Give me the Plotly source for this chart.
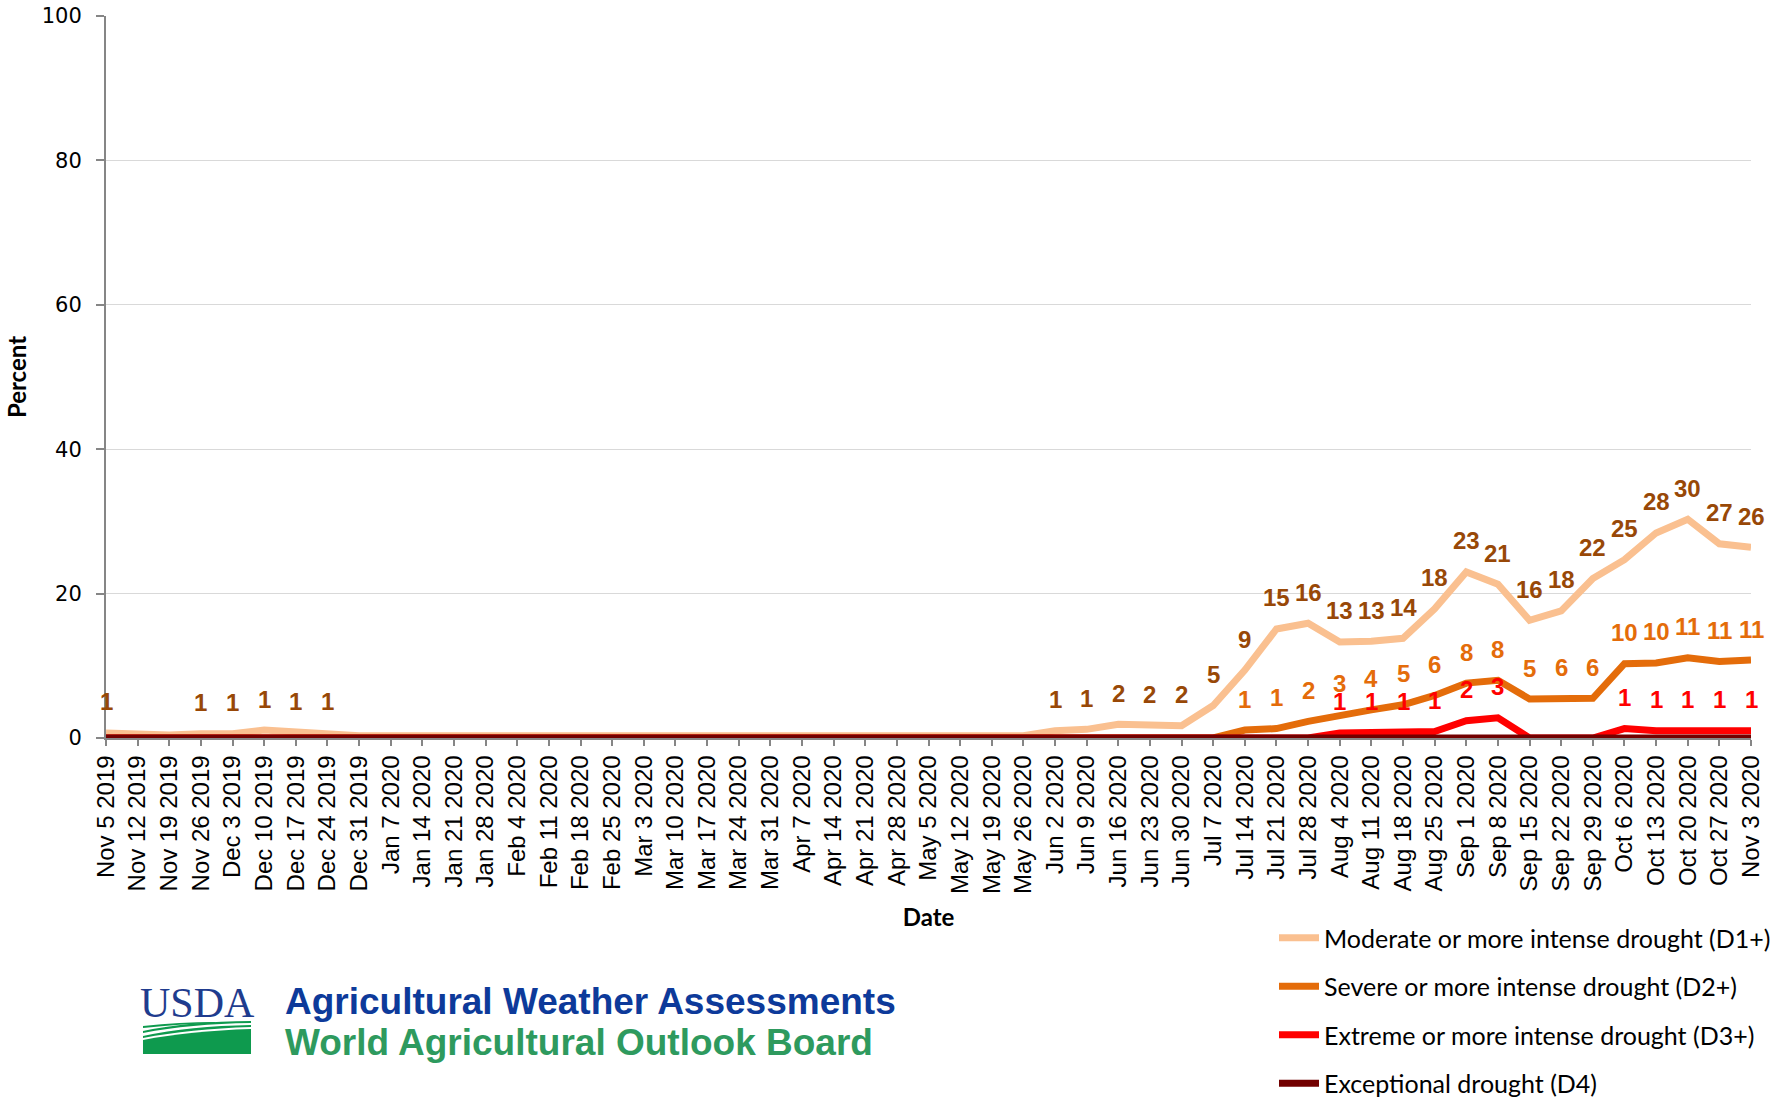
import plotly.graph_objects as go

dates = ["Nov 5 2019", "Nov 12 2019", "Nov 19 2019", "Nov 26 2019", "Dec 3 2019", "Dec 10 2019",
         "Dec 17 2019", "Dec 24 2019", "Dec 31 2019", "Jan 7 2020", "Jan 14 2020", "Jan 21 2020",
         "Jan 28 2020", "Feb 4 2020", "Feb 11 2020", "Feb 18 2020", "Feb 25 2020", "Mar 3 2020",
         "Mar 10 2020", "Mar 17 2020", "Mar 24 2020", "Mar 31 2020", "Apr 7 2020", "Apr 14 2020",
         "Apr 21 2020", "Apr 28 2020", "May 5 2020", "May 12 2020", "May 19 2020", "May 26 2020",
         "Jun 2 2020", "Jun 9 2020", "Jun 16 2020", "Jun 23 2020", "Jun 30 2020", "Jul 7 2020",
         "Jul 14 2020", "Jul 21 2020", "Jul 28 2020", "Aug 4 2020", "Aug 11 2020", "Aug 18 2020",
         "Aug 25 2020", "Sep 1 2020", "Sep 8 2020", "Sep 15 2020", "Sep 22 2020", "Sep 29 2020",
         "Oct 6 2020", "Oct 13 2020", "Oct 20 2020", "Oct 27 2020", "Nov 3 2020"]

d1_moderate = [0.7, 0.45, 0.4, 0.6, 0.6, 1.1, 0.8, 0.7, 0.3, 0.3, 0.3, 0.3, 0.3, 0.3, 0.3, 0.2,
               0.1, 0.1, 0.1, 0.1, 0.1, 0.1, 0.1, 0.1, 0.1, 0.1, 0.1, 0.2, 0.3, 0.3,
               1.0, 1.2, 1.9, 1.8, 1.7, 4.5, 9.4, 15.1, 15.9, 13.3, 13.4, 13.8, 17.9,
               23.0, 21.3, 16.3, 17.6, 22.1, 24.7, 28.4, 30.3, 26.9, 26.4]

d2_severe = [0.0] * 36 + [1.1, 1.3, 2.3, 3.2, 3.9, 4.6, 5.9, 7.6, 8.0, 5.4, 5.5, 5.5,
                          10.3, 10.4, 11.1, 10.6, 10.8]

d3_extreme = [0.0] * 39 + [0.7, 0.7, 0.7, 0.9, 2.4, 2.8, 0.0, 0.0, 0.0, 1.3, 1.0, 1.0, 1.0, 1.0]

d4_exceptional = [0.0] * 53

series_names = ["Moderate or more intense drought (D1+)",
                "Severe or more intense drought (D2+)",
                "Extreme or more intense drought (D3+)",
                "Exceptional drought (D4)"]
series_values = [d1_moderate, d2_severe, d3_extreme, d4_exceptional]
line_colors = ["#FAC090", "#E46C0A", "#FF0000", "#720000"]
label_colors = ["#984807", "#E46C0A", "#FF0000", None]

# layout geometry (pixels)
W, H = 1792, 1098
L, R, T, B = 106, 41, 16, 360
PW, PH = W - L - R, H - T - B


def px(x):
    return (x - L) / PW


def py(y):
    return (H - B - y) / PH


fig = go.Figure()
for i, (name, vals) in enumerate(zip(series_names, series_values)):
    fig.add_trace(go.Scatter(
        x=dates, y=vals, mode="lines", name=name,
        line=dict(color=line_colors[i], width=7),
        legendgroup=f"g{i}", cliponaxis=False, hoverinfo="x+y+name"))

annotations = []
for i, vals in enumerate(series_values):
    if label_colors[i] is None:
        continue
    for d, v in zip(dates, vals):
        n = int(v + 0.5)
        if n < 1:
            continue
        annotations.append(dict(
            x=d, y=v, xref="x", yref="y", text=f"<b>{n}</b>", showarrow=False,
            yshift=31, font=dict(family="Liberation Sans, Arial", size=24, color=label_colors[i])))

# footer texts
annotations.append(dict(x=px(283), y=py(1001), xref="paper", yref="paper", xanchor="left",
                        yanchor="middle", showarrow=False,
                        text="<b>Agricultural Weather Assessments</b>",
                        font=dict(family="Liberation Sans, Arial", size=37, color="#0D3A9A")))
annotations.append(dict(x=px(283), y=py(1042), xref="paper", yref="paper", xanchor="left",
                        yanchor="middle", showarrow=False,
                        text="<b>World Agricultural Outlook Board</b>",
                        font=dict(family="Liberation Sans, Arial", size=37, color="#2E9A5E")))
annotations.append(dict(x=px(197), y=py(1003), xref="paper", yref="paper", xanchor="center",
                        yanchor="middle", showarrow=False, text="USDA",
                        font=dict(family="Liberation Serif, Times New Roman", size=42, color="#1F3C8E")))

green = "#0E9A4E"


def P(x, y):
    return f"{px(x):.5f},{py(y):.5f}"


shapes = [
    dict(type="path", xref="paper", yref="paper", line=dict(width=0), fillcolor=green,
         path=f"M {P(143,1054)} L {P(251,1054)} L {P(251,1029)} Q {P(190,1031)} {P(143,1040)} Z"),
    dict(type="path", xref="paper", yref="paper", line=dict(width=0), fillcolor=green,
         path=f"M {P(143,1036)} Q {P(190,1026)} {P(251,1025)} L {P(251,1027)} Q {P(190,1029)} {P(143,1038)} Z"),
    dict(type="path", xref="paper", yref="paper", line=dict(width=0), fillcolor=green,
         path=f"M {P(143,1031)} Q {P(190,1021)} {P(251,1021)} L {P(251,1023)} Q {P(190,1024)} {P(143,1033)} Z"),
    dict(type="path", xref="paper", yref="paper", line=dict(width=0), fillcolor=green,
         path=f"M {P(143,1026)} Q {P(180,1022)} {P(215,1022)} L {P(215,1023)} Q {P(180,1024)} {P(143,1028)} Z"),
]

fig.update_layout(
    width=W, height=H,
    margin=dict(l=L, r=R, t=T, b=B, autoexpand=False),
    paper_bgcolor="white", plot_bgcolor="white",
    showlegend=True,
    legend=dict(x=px(1274), y=py(915), xanchor="left", yanchor="top",
                font=dict(family="Lato", size=25, color="#000000"),
                tracegroupgap=13, bgcolor="rgba(0,0,0,0)", itemwidth=40),
    annotations=annotations,
    shapes=shapes,
    xaxis=dict(
        type="category", range=[0, 52], tickangle=-90,
        tickfont=dict(family="Liberation Sans, Arial", size=24, color="#000000"),
        ticks="outside", ticklen=6, tickcolor="#868686", tickwidth=1.5,
        showline=True, linecolor="#868686", linewidth=1.5, showgrid=False,
        title=dict(text="<b>Date</b>", font=dict(family="Lato", size=24, color="#000000"),
                   standoff=16),
        automargin=False, fixedrange=True),
    yaxis=dict(
        range=[0, 100], tickvals=[0, 20, 40, 60, 80, 100],
        tickfont=dict(family="DejaVu Sans", size=21, color="#000000"),
        ticks="outside", ticklen=8, tickcolor="#868686", tickwidth=1.5,
        showline=True, linecolor="#868686", linewidth=2,
        showgrid=True, gridcolor="#D9D9D9", gridwidth=1, zeroline=False,
        ticklabelstandoff=10,
        title=dict(text="<b>Percent</b>", font=dict(family="Lato", size=24, color="#000000"),
                   standoff=8),
        automargin=False, fixedrange=True),
)

fig.write_html("out.html", config={"displayModeBar": False},
               post_script="document.body.style.margin='0';")
